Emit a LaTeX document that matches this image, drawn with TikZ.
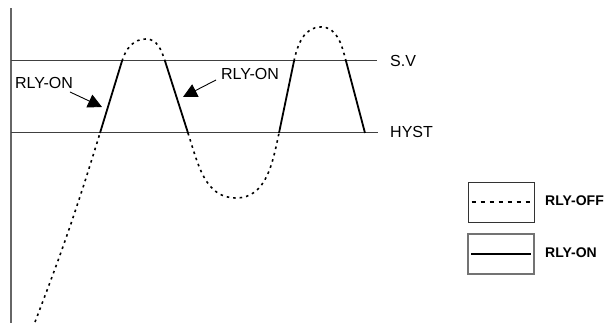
\documentclass[tikz,border=0pt]{standalone}
\usepackage{fontspec}
\setmainfont{Liberation Sans}
\usetikzlibrary{arrows.meta}
\begin{document}
\begin{tikzpicture}[x=1pt,y=1pt,
  refline/.style={draw=black!75,line width=1pt},
  onseg/.style={draw=black,line width=1.8pt},
  offseg/.style={draw=black,line width=1.6pt,dash pattern=on 2.5pt off 4pt},
  lbl/.style={font=\fontsize{16}{18}\selectfont,inner sep=0pt},
  leglbl/.style={font=\bfseries\fontsize{14}{16}\selectfont,inner sep=0pt,anchor=west},
  legbox/.style={draw=black!80,line width=0.9pt},
  pointer/.style={draw=black,line width=0.9pt,-{Triangle[length=14pt,width=14pt]}}]
\useasboundingbox (0,0) rectangle (609,323);
% axis
\draw[draw=black!60,line width=1.8pt] (11,0) -- (11,315);
% reference lines
\coordinate (sv0) at (11,262);
\coordinate (sv1) at (377,262);
\coordinate (hy0) at (11,190);
\coordinate (hy1) at (378,190);
\draw[refline] (sv0) -- (sv1);
\draw[refline] (hy0) -- (hy1);
\node[lbl,anchor=west] (svl) at (390,262) {S.V};
\node[lbl,anchor=west] (hyl) at (390,191) {HYST};
% curve points
\coordinate (s0) at (35,1);
\coordinate (a1) at (100,190);
\coordinate (a2) at (122,262);
\coordinate (p1) at (146,284);
\coordinate (b1) at (165,262);
\coordinate (b2) at (188,190);
\coordinate (t1) at (236,125);
\coordinate (c1) at (279,190);
\coordinate (c2) at (294,262);
\coordinate (p2) at (321,296);
\coordinate (d1) at (346,262);
\coordinate (d2) at (365,190);
% RLY-OFF (dotted) parts
\draw[offseg] (s0) to[out=69,in=253] (a1);
\draw[offseg] (a2) to[out=73,in=180] (p1) to[out=0,in=108] (b1);
\draw[offseg] (b2) to[out=-72,in=180] (t1) to[out=0,in=258] (c1);
\draw[offseg] (c2) to[out=78,in=180] (p2) to[out=0,in=105] (d1);
% RLY-ON (solid) parts
\draw[onseg] (a1) -- (a2);
\draw[onseg] (b1) -- (b2);
\draw[onseg] (c1) -- (c2);
\draw[onseg] (d1) -- (d2);
% annotations
\node[lbl] (on1) at (44,240) {RLY-ON};
\node[lbl] (on2) at (250,249) {RLY-ON};
\coordinate (tip1) at (102,216);
\coordinate (tip2) at (183,226);
\draw[pointer] (70,231) -- (tip1);
\draw[pointer] (216,243) -- (tip2);
% legend
\node[legbox,minimum width=66pt,minimum height=40pt,inner sep=0pt] (box1) at (501,121) {};
\node[legbox,draw=black!55,line width=1.2pt,minimum width=66pt,minimum height=40pt,inner sep=0pt] (box2) at (501,69) {};
\draw[offseg,line width=1.3pt,dash pattern=on 4pt off 5pt] ([xshift=4pt]box1.west) -- ([xshift=-4pt]box1.east);
\draw[onseg,line width=1.6pt] ([xshift=4pt]box2.west) -- ([xshift=-4pt]box2.east);
\node[leglbl] (offl) at (545,122) {RLY-OFF};
\node[leglbl] (onl) at (545,70) {RLY-ON};
\end{tikzpicture}
\end{document}
